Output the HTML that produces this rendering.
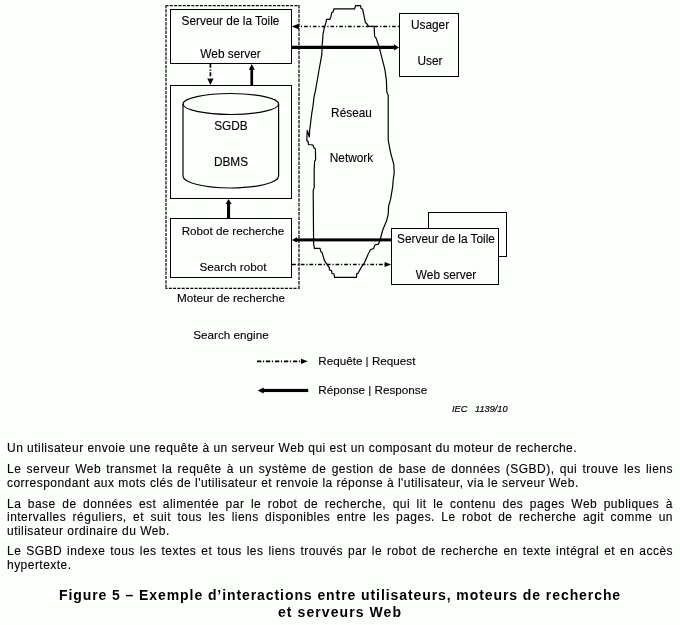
<!DOCTYPE html>
<html><head><meta charset="utf-8">
<style>
html,body{margin:0;padding:0;background:#fdfffd;}
body{width:680px;height:625px;position:relative;overflow:hidden;font-family:"Liberation Sans",sans-serif;color:#000;}
svg{position:absolute;left:0;top:0;}
svg text{font-family:"Liberation Sans",sans-serif;font-size:11.85px;fill:#000;stroke:#000;stroke-width:0.12px;}
.l{-webkit-text-stroke:0.12px #000;position:absolute;left:7px;width:666px;font-size:12px;line-height:14px;height:14px;white-space:nowrap;letter-spacing:0.47px;}
.j{text-align:justify;text-align-last:justify;white-space:normal;}
.c{position:absolute;left:0;width:680px;text-align:center;font-size:14px;font-weight:bold;line-height:16px;letter-spacing:0.92px;white-space:nowrap;}
#w{position:absolute;left:0;top:0;width:680px;height:625px;will-change:transform;}
</style></head>
<body>
<div id="w">
<svg width="680" height="625" viewBox="0 0 680 625">
 <g fill="none" stroke="#000" stroke-width="1" shape-rendering="crispEdges">
  <!-- outer dashed box -->
  <g shape-rendering="auto">
  <path d="M165.5 5.7 H299.5" stroke-dasharray="3 1.3" stroke="#000" stroke-width="1.3"/>
  <path d="M165.5 288.3 H299.8" stroke-dasharray="3 1.3" stroke="#000" stroke-width="1.3" stroke-dashoffset="1"/>
  <path d="M166 5 V289" stroke-dasharray="3.2 1.1" stroke="#555" stroke-width="1.8"/>
  <path d="M299 5 V289" stroke-dasharray="3.5 1.1" stroke="#555" stroke-width="1.8"/>
  </g>
  <!-- boxes -->
  <rect x="170.5" y="9.5" width="121" height="54"/>
  <rect x="170.5" y="85.5" width="121" height="113"/>
  <rect x="170.5" y="218.5" width="121" height="59"/>
  <rect x="399.5" y="13.5" width="59" height="63"/>
  <rect x="391.5" y="228.5" width="107" height="56"/>
  <path d="M428.5 228 V212.5 H506.5 V256.5 H498"/>
 </g>
 <!-- cylinder -->
 <g fill="none" stroke="#000" stroke-width="1.2">
  <ellipse cx="230.8" cy="104" rx="47.8" ry="10.5"/>
  <path d="M183 104 V176 A47.8 12 0 0 0 278.6 176 V104"/>
 </g>
 <!-- cloud -->
 <path fill="none" stroke="#000" stroke-width="1.2" stroke-linejoin="miter" d="M326.6 19.4 L329.8 19.4 L331 16.4 L331.8 12.4 L333 12 L334 8.8 L354.6 8.8 L355.6 5.6 L360.5 5.6 L361 8.2 L362.6 9.2 L365.4 22.4 L367 24 L368.6 26.4 L374.2 26.4 L374.6 36.4 L376.2 38.4 L379.2 47.4 L384.8 69 L386.4 80.2 L386.8 92 L388.2 95.6 L388.2 140 L390.6 152.6 L393.8 164.6 L394.2 172.6 L393.2 180 L392.6 187.2 L390.6 199.2 L388.6 206.4 L388.2 214.4 L386.6 220.8 L385 224.4 L382.8 229.8 L380 240.2 L378.4 244.2 L374.8 245 L373.6 248.6 L370.4 249.8 L368 254.6 L364.4 263 L361.2 267.4 L358 273.2 L356.8 273.6 L356.4 277.4 L334.6 277.4 L334 274 L332 273.6 L331.6 270.8 L329.6 270 L329.2 267.6 L326 262.8 L324.4 260.4 L322 252.4 L320.8 251.6 L320 248.4 L314.4 248.4 L313.6 243.6 L313.2 190.4 L314.2 187.6 L314.2 169.4 L314.6 161.4 L315.6 159.8 L315.4 148.8 L313.9 147.8 L313 145 L308.4 144.5 L308.2 141.6 L306.8 140.6 L307.2 130.3 L309.4 137.3 L309.6 131 L311.8 113.2 L313 106 L314 97.2 L315.6 90 L319.2 69 L321.8 54.6 L322.2 45 L323 34.4 L324.4 27.2 L325.8 23.2 Z"/>
 <!-- arrows -->
 <g fill="#000" stroke="none">
  <!-- thick web server -> user -->
  <rect x="292" y="45.75" width="103" height="3.25"/>
  <path d="M399 47.4 L394 44.3 L394 50.5 Z"/>
  <!-- up arrow sgdb -> web server -->
  <rect x="250.4" y="69" width="2.7" height="16"/>
  <path d="M251.8 64 L248.8 69.7 L254.8 69.7 Z"/>
  <!-- up arrow robot -> sgdb -->
  <rect x="227" y="203" width="3.1" height="15"/>
  <path d="M228.6 199 L225.6 204 L231.6 204 Z"/>
  <!-- thick right server -> robot -->
  <rect x="296" y="238.4" width="95.5" height="3"/>
  <path d="M291.8 239.9 L297 237.2 L297 242.6 Z"/>
  <!-- dashed down arrow -->
  <path d="M210.4 85 L207.2 78.2 L210.4 78.9 L213.6 78.2 Z"/>
  <!-- dash-dot arrowheads -->
  <path d="M291.6 26.5 L298.8 23.7 L298.8 29.3 Z"/>
  <path d="M391.2 264.5 L384.6 262.1 L384.6 266.9 Z"/>
  <!-- legend -->
  <path d="M307.8 361.3 L301 358.7 L301 363.9 Z"/>
  <rect x="262" y="388.9" width="46.2" height="3.15"/>
  <path d="M257.7 390.5 L263.7 387.5 L263.7 393.5 Z"/>
 </g>
 <g fill="none" stroke="#000" stroke-width="1.8">
  <path d="M300.9 26.5 H399" stroke-dasharray="1.2 2 3.6 2" stroke-width="1.4"/>
  <path d="M292 264.5 H385" stroke-width="1.4" stroke-dasharray="3.8 1.8 1.2 1.9" stroke-dashoffset="0"/>
  <path d="M210.4 63.8 V78.5" stroke-dasharray="4 1.7 1.2 1.5" stroke-width="1.7"/>
  <path d="M257 361.3 H301" stroke-dasharray="4.3 1.6 1.2 1.9" stroke-width="1.7"/>
 </g>
 <!-- labels -->
 <text x="230.5" y="25" text-anchor="middle">Serveur de la Toile</text>
 <text x="230.5" y="57.5" text-anchor="middle">Web server</text>
 <text x="231" y="130" text-anchor="middle">SGDB</text>
 <text x="231" y="166" text-anchor="middle">DBMS</text>
 <text x="233" y="235" text-anchor="middle" style="font-size:11.7px">Robot de recherche</text>
 <text x="233" y="271" text-anchor="middle" style="font-size:11.7px">Search robot</text>
 <text x="430" y="29" text-anchor="middle">Usager</text>
 <text x="430" y="65" text-anchor="middle">User</text>
 <text x="351.5" y="116.5" text-anchor="middle">Réseau</text>
 <text x="351.5" y="161.5" text-anchor="middle">Network</text>
 <text x="446" y="242.5" text-anchor="middle">Serveur de la Toile</text>
 <text x="446" y="278.5" text-anchor="middle">Web server</text>
 <text x="231" y="301.6" text-anchor="middle" style="font-size:11.7px">Moteur de recherche</text>
 <text x="231" y="338.7" text-anchor="middle" style="font-size:11.7px">Search engine</text>
 <text x="318.2" y="365" style="font-size:11.7px">Requête | Request</text>
 <text x="318.2" y="394.3" style="font-size:11.7px">Réponse | Response</text>
 <text x="452" y="412" style="font-size:9.2px;font-style:italic;stroke:#000;stroke-width:0.2">IEC</text>
 <text x="475" y="412" style="font-size:9.2px;font-style:italic;stroke:#000;stroke-width:0.2">1139/10</text>
</svg>
<div class="l" style="top:441px">Un utilisateur envoie une requête à un serveur Web qui est un composant du moteur de recherche.</div>
<div class="l j" style="top:462px">Le serveur Web transmet la requête à un système de gestion de base de données (SGBD), qui trouve les liens</div>
<div class="l" style="top:476px">correspondant aux mots clés de l'utilisateur et renvoie la réponse à l'utilisateur, via le serveur Web.</div>
<div class="l j" style="top:497px">La base de données est alimentée par le robot de recherche, qui lit le contenu des pages Web publiques à</div>
<div class="l j" style="top:510px">intervalles réguliers, et suit tous les liens disponibles entre les pages. Le robot de recherche agit comme un</div>
<div class="l" style="top:524px">utilisateur ordinaire du Web.</div>
<div class="l j" style="top:544px">Le SGBD indexe tous les textes et tous les liens trouvés par le robot de recherche en texte intégral et en accès</div>
<div class="l" style="top:558px">hypertexte.</div>
<div class="c" style="top:587px">Figure 5 – Exemple d’interactions entre utilisateurs, moteurs de recherche</div>
<div class="c" style="top:604px;letter-spacing:1.08px">et serveurs Web</div>
</div>
</body></html>
